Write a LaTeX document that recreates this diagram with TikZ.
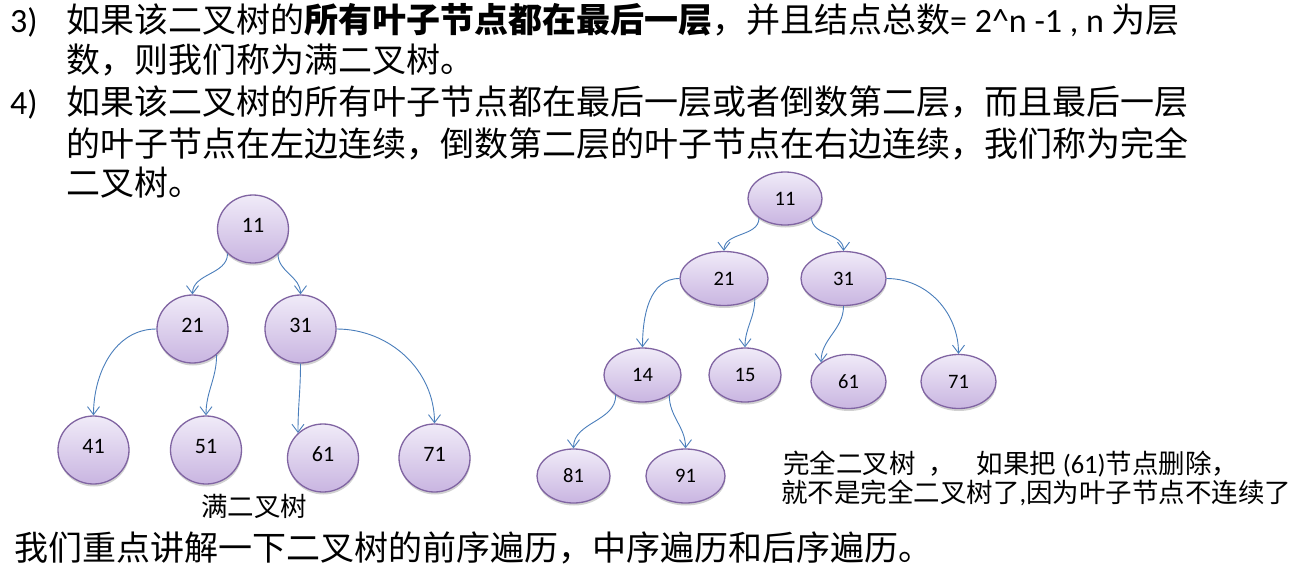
\documentclass[tikz,border=0pt]{standalone}
\usepackage{fontspec}
\setmainfont{Noto Sans CJK SC}
\newfontfamily\lat{Carlito}
\usetikzlibrary{arrows.meta,shapes.geometric,shadows}
\definecolor{nodetop}{HTML}{F0EBF8}
\definecolor{nodebot}{HTML}{C9B5E1}
\definecolor{nodeline}{HTML}{8064A2}
\definecolor{conncol}{HTML}{4A7EBB}
\tikzset{
  treenode/.style={ellipse, draw=nodeline, line width=1.3pt, top color=nodetop, bottom color=nodebot,
     inner sep=0pt, font=\lat\fontsize{22}{24}\selectfont,
     drop shadow={shadow xshift=0.5pt, shadow yshift=-2.5pt, opacity=0.18, fill=black}},
  ltree/.style={treenode, minimum width=71pt, minimum height=68pt, text depth=7pt},
  rtree/.style={treenode, font=\lat\fontsize{20.5}{22}\selectfont, minimum height=54pt},
  conn/.style={draw=conncol, line width=0.9pt, -{Straight Barb[length=8pt,width=12pt]}},
  bigtext/.style={anchor=base west, inner sep=0pt, font=\fontsize{34}{40}\selectfont},
  captext/.style={anchor=base west, inner sep=0pt, font=\fontsize{26.5}{30}\selectfont},
}
\begin{document}
\begin{tikzpicture}[x=1pt,y=1pt]
\useasboundingbox[fill=white] (0,0) rectangle (1291,-573);
% heading text
\node[bigtext] (n3) at (10,-32) {\lat 3)};
\node[bigtext] (t1) at (66,-32) {如果该二叉树的{\bfseries 所有叶子节点都在最后一层}，并且结点总数{\lat = 2\textasciicircum n -1 , n }为层};
\node[bigtext] (t2) at (66,-72) {数，则我们称为满二叉树。};
\node[bigtext] (n4) at (10,-114) {\lat 4)};
\node[bigtext] (t3) at (66,-114) {如果该二叉树的所有叶子节点都在最后一层或者倒数第二层，而且最后一层};
\node[bigtext] (t4) at (66,-156) {的叶子节点在左边连续，倒数第二层的叶子节点在右边连续，我们称为完全};
\node[bigtext] (t5) at (66,-195) {二叉树。};
\node[bigtext] (tb) at (14,-560) {我们重点讲解一下二叉树的前序遍历，中序遍历和后序遍历。};
% left tree
\node[ltree] (L11) at (253,-229) {11};
\node[ltree] (L21) at (192.5,-329) {21};
\node[ltree] (L31) at (300.5,-329) {31};
\node[ltree] (L41) at (93.5,-450) {41};
\node[ltree] (L51) at (206,-450) {51};
\node[ltree] (L61) at (323,-458) {61};
\node[ltree] (L71) at (434.5,-458) {71};
\draw[conn] (L11.-136) to[out=-90,in=90] (L21.north);
\draw[conn] (L11.-45) to[out=-90,in=90] (L31.north);
\draw[conn] (L21.west) to[out=180,in=90] (L41.north);
\draw[conn] (L21.-47) to[out=-90,in=90] (L51.north);
\draw[conn] (L31.south) to[out=-90,in=90] (L61.135);
\draw[conn] (L31.east) to[out=0,in=90] (L71.north);
\node[captext, anchor=base] (cap1) at (254,-516) {满二叉树};
% right tree
\node[rtree, minimum width=74pt, minimum height=53pt] (R11) at (785,-198.5) {11};
\node[rtree, minimum width=88pt] (R21) at (724,-278.5) {21};
\node[rtree, minimum width=85pt] (R31) at (843.5,-278.5) {31};
\node[rtree, minimum width=77pt] (R14) at (642.5,-375) {14};
\node[rtree, minimum width=72pt] (R15) at (745,-375) {15};
\node[rtree, minimum width=75pt] (R61) at (848.5,-381.5) {61};
\node[rtree, minimum width=75pt] (R71) at (958.5,-381.5) {71};
\node[rtree, minimum width=73pt] (R81) at (573.5,-476) {81};
\node[rtree, minimum width=79pt] (R91) at (685.5,-476) {91};
\draw[conn] (R11.-143) to[out=-90,in=90] (R21.north);
\draw[conn] (R11.-36) to[out=-90,in=90] (R31.north);
\draw[conn] (R21.west) to[out=180,in=90] (R14.north);
\draw[conn] (R21.-33) to[out=-90,in=90] (R15.north);
\draw[conn] (R31.south) to[out=-90,in=90] (R61.145);
\draw[conn] (R31.east) to[out=0,in=90] (R71.north);
\draw[conn] (R14.-143) to[out=-90,in=90] (R81.north);
\draw[conn] (R14.-37) to[out=-90,in=90] (R91.north);
\node[captext] (cap2) at (783,-473) {完全二叉树\hspace{0.5em}，\hspace{0.8em}如果把\hspace{0.25em}{\lat (61)}节点删除，};
\node[captext] (cap3) at (781,-502) {就不是完全二叉树了{\lat ,}因为叶子节点不连续了};
\end{tikzpicture}
\end{document}
